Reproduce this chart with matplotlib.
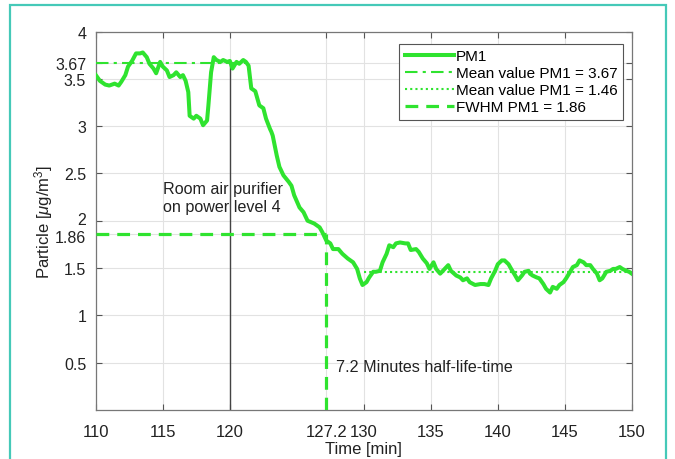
import matplotlib
matplotlib.use('Agg')
import matplotlib.pyplot as plt
from matplotlib.patches import Rectangle
from matplotlib.transforms import ScaledTranslation

plt.rcParams['font.family'] = ['Liberation Sans', 'DejaVu Sans']
plt.rcParams['mathtext.fontset'] = 'custom'
plt.rcParams['mathtext.rm'] = 'Liberation Sans'
plt.rcParams['mathtext.it'] = 'Liberation Sans:italic'

# PM1 trace
time_min = [110.0, 110.3, 110.7, 111.0, 111.4, 111.7, 111.9, 112.2, 112.4, 112.7,
            113.0, 113.3, 113.5, 113.8, 114.0, 114.3, 114.5, 114.8, 115.0, 115.3,
            115.5, 115.8, 116.0, 116.3, 116.5, 116.7, 116.9, 117.0, 117.3, 117.5,
            117.8, 118.0, 118.3, 118.4, 118.6, 118.8, 119.0, 119.3, 119.5, 119.8,
            120.0, 120.2, 120.5, 120.7, 121.0, 121.2, 121.4, 121.6, 121.9, 122.2,
            122.5, 122.7, 123.0, 123.1, 123.2, 123.5, 123.7, 124.0, 124.4, 124.6,
            124.8, 125.2, 125.5, 125.8, 126.3, 126.7, 126.9, 127.2, 127.5, 127.7,
            128.1, 128.4, 128.8, 129.2, 129.5, 129.7, 129.9, 130.2, 130.4, 130.7,
            130.9, 131.2, 131.4, 131.7, 131.9, 132.2, 132.4, 132.7, 133.1, 133.3,
            133.5, 133.9, 134.1, 134.4, 134.7, 134.9, 135.2, 135.4, 135.7, 135.9,
            136.3, 136.5, 136.9, 137.2, 137.4, 137.7, 137.9, 138.3, 138.7, 139.0,
            139.3, 139.5, 139.8, 140.0, 140.3, 140.5, 140.8, 141.0, 141.3, 141.5,
            141.8, 142.0, 142.3, 142.4, 142.6, 142.9, 143.1, 143.4, 143.6, 143.9,
            144.1, 144.4, 144.6, 144.9, 145.1, 145.4, 145.6, 145.9, 146.1, 146.4,
            146.6, 146.9, 147.1, 147.4, 147.6, 147.8, 148.1, 148.4, 148.6, 148.8,
            149.1, 149.3, 149.6, 149.8, 150.0]
pm1 = [3.54, 3.48, 3.44, 3.43, 3.45, 3.43, 3.47, 3.54, 3.63, 3.69,
       3.77, 3.77, 3.78, 3.73, 3.66, 3.61, 3.56, 3.68, 3.63, 3.59,
       3.52, 3.54, 3.57, 3.52, 3.54, 3.48, 3.36, 3.11, 3.08, 3.11,
       3.08, 3.01, 3.06, 3.22, 3.57, 3.73, 3.70, 3.68, 3.70, 3.68,
       3.69, 3.61, 3.68, 3.66, 3.70, 3.68, 3.64, 3.40, 3.37, 3.22,
       3.19, 3.08, 2.97, 2.94, 2.90, 2.69, 2.57, 2.48, 2.41, 2.37,
       2.27, 2.14, 2.09, 2.00, 1.97, 1.93, 1.88, 1.79, 1.76, 1.70,
       1.70, 1.65, 1.60, 1.56, 1.49, 1.39, 1.32, 1.35, 1.40, 1.46,
       1.46, 1.47, 1.56, 1.65, 1.74, 1.72, 1.76, 1.77, 1.76, 1.76,
       1.69, 1.70, 1.67, 1.60, 1.55, 1.49, 1.56, 1.49, 1.44, 1.47,
       1.53, 1.47, 1.42, 1.40, 1.37, 1.39, 1.35, 1.32, 1.33, 1.33,
       1.32, 1.39, 1.47, 1.54, 1.58, 1.58, 1.54, 1.49, 1.42, 1.37,
       1.42, 1.46, 1.47, 1.44, 1.42, 1.40, 1.39, 1.33, 1.28, 1.24,
       1.30, 1.28, 1.32, 1.35, 1.39, 1.46, 1.51, 1.53, 1.58, 1.56,
       1.53, 1.53, 1.49, 1.44, 1.37, 1.39, 1.46, 1.47, 1.49, 1.49,
       1.51, 1.49, 1.47, 1.46, 1.44]

mean_before = 3.67
mean_before_span = [110, 121.5]
mean_after = 1.46
mean_after_span = [130, 150]
fwhm = 1.86
half_life_time = 127.2
purifier_on = 120

x_ticks = [110, 115, 120, 127.2, 130, 135, 140, 145, 150]
x_tick_labels = ['110', '115', '120', '127.2', '130', '135', '140', '145', '150']
y_ticks = [0.5, 1, 1.5, 1.86, 2, 2.5, 3, 3.5, 3.67, 4]
y_tick_labels = ['0.5', '1', '1.5', '1.86', '2', '2.5', '3', '3.5', '3.67', '4']

green = '#2fe32f'

fig = plt.figure(figsize=(6.75, 4.6), dpi=100)
ax = fig.add_axes([0.142, 0.107, 0.794, 0.822])

# teal frame round the figure
fig.patches.append(Rectangle((0.015, -0.02), 0.971, 1.008, transform=fig.transFigure,
                             fill=False, edgecolor='#45c9b8', linewidth=1.6))

ax.plot([purifier_on, purifier_on], [0, mean_before], color='#444444', linewidth=1.0)

ax.plot(time_min, pm1, color=green, linewidth=2.9, label='PM1', zorder=5)
ax.plot(mean_before_span, [mean_before, mean_before], color=green, linewidth=1.5,
        linestyle=(0, (6, 2.5, 1.5, 2.5)), label='Mean value PM1 = 3.67', zorder=4)
ax.plot(mean_after_span, [mean_after, mean_after], color=green, linewidth=1.5,
        linestyle=(0, (1, 1.5)), label='Mean value PM1 = 1.46', zorder=4)
ax.plot([110, half_life_time], [fwhm, fwhm], color=green, linewidth=2.3,
        linestyle=(0, (4, 2.5)), label='FWHM PM1 = 1.86', zorder=4)
ax.plot([half_life_time, half_life_time], [0, fwhm], color=green, linewidth=2.3,
        linestyle=(0, (4, 2.5)), zorder=4)

ax.text(115.0, 2.25, 'Room air purifier\non power level 4', fontsize=11.6,
        color='#222222', va='center', ha='left', linespacing=1.25)
ax.text(127.9, 0.46, '7.2 Minutes half-life-time', fontsize=11.6,
        color='#222222', va='center', ha='left')

ax.set_xlim(110, 150)
ax.set_ylim(0, 4)
ax.set_xticks(x_ticks)
ax.set_xticklabels(x_tick_labels)
ax.set_yticks(y_ticks)
ax.set_yticklabels(y_tick_labels)
ax.grid(True, color='#e2e2e2', linewidth=0.8)
ax.set_axisbelow(True)
ax.tick_params(direction='in', top=True, right=True, length=4, width=0.8,
               labelsize=12, colors='#555555', labelcolor='#222222')
ax.tick_params(axis='y', labelsize=11.5, pad=7)
ax.tick_params(axis='x', pad=10)
for s in ax.spines.values():
    s.set_color('#777777')
    s.set_linewidth(0.9)

# the 2 and 1.86 labels sit very close; nudge them apart a little
for lab in ax.get_yticklabels():
    if lab.get_text() == '2':
        lab.set_transform(lab.get_transform() + ScaledTranslation(0, 2 / 72, fig.dpi_scale_trans))
    elif lab.get_text() == '1.86':
        lab.set_transform(lab.get_transform() + ScaledTranslation(0, -1.5 / 72, fig.dpi_scale_trans))

ax.set_xlabel('Time [min]', fontsize=12, color='#222222', labelpad=2)
ax.set_ylabel(r'Particle [$\mu$g/m$^3$]', fontsize=12, color='#222222', labelpad=0)

leg = ax.legend(loc='upper right', bbox_to_anchor=(0.992, 0.98), fontsize=11,
                fancybox=False, framealpha=1, edgecolor='#555555',
                handlelength=3.2, handletextpad=0.15, borderpad=0.35,
                labelspacing=0.2, borderaxespad=0.3)
leg.get_frame().set_linewidth(0.8)

fig.savefig('out.png', dpi=100)
